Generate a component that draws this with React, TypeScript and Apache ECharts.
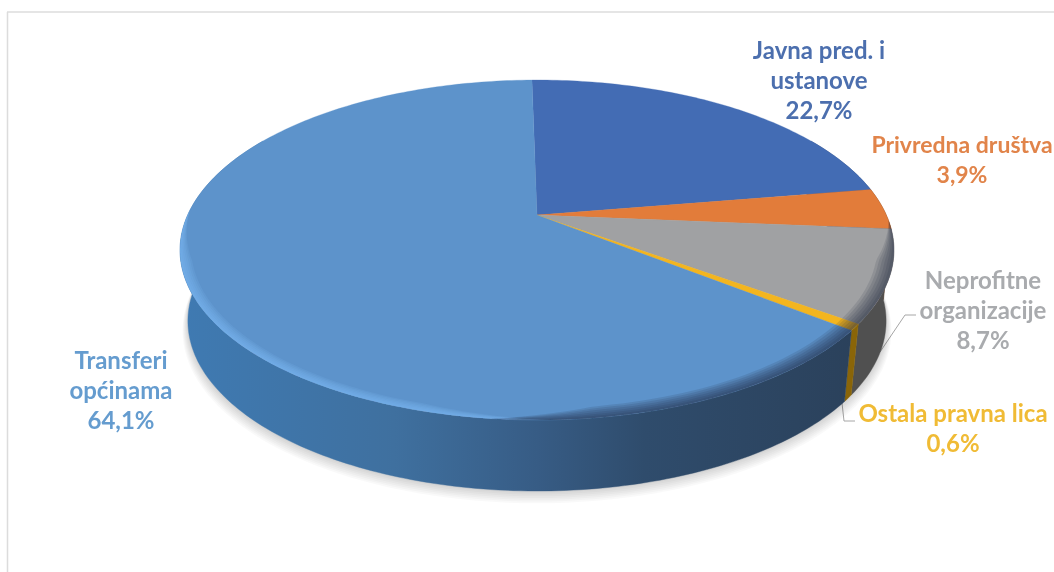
import React, { useEffect, useRef } from "react";
import * as echarts from "echarts";

const categories = ["Javna pred. i\nustanove", "Privredna društva", "Neprofitne\norganizacije", "Ostala pravna lica", "Transferi\nopćinama"];
const shares = [22.7, 3.9, 8.7, 0.6, 64.1];
const valueLabels = ["22,7%", "3,9%", "8,7%", "0,6%", "64,1%"];
const topColors = ["#436cb4", "#e27c3a", "#a0a1a3", "#f3b51f", "#5d93cb"];
const textColors = ["#4c6fae", "#e1844a", "#a9abae", "#f0bb35", "#659ccf"];
const labelCenters = [[819, 79], [962, 159], [983, 309], [953, 427], [121, 389]];
const labelFontSizes = [24, 23, 24, 24, 24];

const START_DEG = -1;
const APEX = { x: 537, y: 215 };
const A = 349.3, B = 162.8, K = 0.206;
const BASE = { sx: 0.978, sy: 1, cy: 286 };

const rad = (d: number) => (d * Math.PI) / 180;
function rim(tDeg: number, r = 1) {
  const u = r * Math.sin(rad(tDeg));
  const v = -r * Math.cos(rad(tDeg));
  const w = 1 - K * v;
  return [APEX.x + (A * u) / w, APEX.y + (B * v) / w];
}
function base(tDeg: number, grow = 1, dy = 0) {
  const [x, y] = rim(tDeg);
  return [APEX.x + (x - APEX.x) * BASE.sx * grow, BASE.cy + dy + (y - APEX.y) * BASE.sy * grow];
}
function range(a: number, b: number, step = 1) {
  const out: number[] = [];
  const n = Math.max(1, Math.ceil(Math.abs(b - a) / step));
  for (let i = 0; i <= n; i++) out.push(a + ((b - a) * i) / n);
  return out;
}
function sliceAngles(i: number) {
  let c = 0;
  for (let j = 0; j < i; j++) c += shares[j];
  return [START_DEG + (c / 100) * 360, START_DEG + ((c + shares[i]) / 100) * 360];
}
const hGrad = (stops: [number, string][]) =>
  new echarts.graphic.LinearGradient(180, 0, 895, 0, stops.map(([offset, color]) => ({ offset, color })), true);

const wallFill = (i: number): any => {
  if (i === 4)
    return hGrad([
      [0, "#3f7ab2"],
      [0.3, "#3f709f"],
      [0.5, "#375c85"],
      [0.65, "#2f4c6c"],
      [1, "#2a3f58"],
    ]);
  return ["#2f4a7c", "#7a4420", "#505050", "#8a6508"][i];
};

const renderWall = (params: any) => {
  const i = params.dataIndex;
  const [a0, a1] = sliceAngles(i);
  const lo = Math.max(a0, 60);
  const hi = Math.min(a1, 300);
  if (hi <= lo) return { type: "group", children: [] };
  const ts = range(lo, hi);
  const points = [...ts.map((t) => rim(t)), ...[...ts].reverse().map((t) => base(t))];
  return { type: "polygon", silent: true, shape: { points }, style: { fill: wallFill(i), stroke: wallFill(i), lineWidth: 0.4 } };
};

const renderTop = (params: any) => {
  const i = params.dataIndex;
  const [a0, a1] = sliceAngles(i);
  const points = [[APEX.x, APEX.y], ...range(a0, a1).map((t) => rim(t))];
  return { type: "polygon", silent: true, shape: { points }, style: { fill: topColors[i], stroke: topColors[i], lineWidth: 0.3 } };
};

// soft drop shadow under the disc: stacked translucent copies of the base outline
const renderShadow = () => ({
  type: "group",
  children: [7, 6, 5, 4, 3, 2, 1].map((n) => ({
    type: "polygon",
    silent: true,
    shape: { points: range(0, 360, 2).map((t) => base(t, 1 + n * 0.0022, n * 1.3)) },
    style: { fill: "rgba(0,0,0,0.022)" },
  })),
});

const bump = (t: number, a: number, b: number, edge: number) =>
  Math.min(1, Math.max(0, Math.min((t - a) / edge, (b - t) / edge)));

// soft bevel of the top face: nested tapered bands along the rim
const renderBevel = () => {
  const children: any[] = [];
  const layers = [1, 0.84, 0.67, 0.5, 0.33, 0.17];
  layers.forEach((f) => {
    const dark = range(92, 186, 1.5);
    children.push({
      type: "polygon",
      silent: true,
      shape: {
        points: [...dark.map((t) => rim(t)), ...[...dark].reverse().map((t) => rim(t, 1 - 0.045 * f * bump(t, 92, 186, 14)))],
      },
      style: { fill: "rgba(28,40,60,0.13)" },
    });
    const light = range(178, 272, 1.5);
    children.push({
      type: "polygon",
      silent: true,
      shape: {
        points: [...light.map((t) => rim(t)), ...[...light].reverse().map((t) => rim(t, 1 - 0.03 * f * bump(t, 178, 272, 18)))],
      },
      style: { fill: "rgba(128,190,245,0.15)" },
    });
  });
  return { type: "group", children };
};

export default function App() {
  const ref = useRef<HTMLDivElement>(null);
  useEffect(() => {
    document.body.style.margin = "0";
    const chart = echarts.init(ref.current!, undefined, { renderer: "svg" });
    const frameColor = "#dcdcdc";
    const leader = "#a6a6a6";
    chart.setOption({
      animation: false,
      backgroundColor: "#ffffff",
      series: [
        { type: "custom", coordinateSystem: "none", data: [0], renderItem: renderShadow, z: 1, silent: true },
        { type: "custom", coordinateSystem: "none", data: shares, renderItem: renderWall, z: 2, silent: true },
        { type: "custom", coordinateSystem: "none", data: shares, renderItem: renderTop, z: 3, silent: true },
        { type: "custom", coordinateSystem: "none", data: [0], renderItem: renderBevel, z: 4, silent: true },
      ],
      graphic: [
        { type: "line", shape: { x1: 7.5, y1: 12, x2: 7.5, y2: 572 }, style: { stroke: frameColor, lineWidth: 1.5 } },
        { type: "line", shape: { x1: 7, y1: 12, x2: 1054, y2: 12 }, style: { stroke: frameColor, lineWidth: 1.5 } },
        { type: "polyline", shape: { points: [[880, 352], [905, 315], [916, 315]] }, style: { stroke: leader, lineWidth: 1, fill: "none" } },
        { type: "polyline", shape: { points: [[842, 403], [844, 421], [855, 421]] }, style: { stroke: leader, lineWidth: 1, fill: "none" } },
        ...categories.map((c, i) => ({
          type: "text",
          x: labelCenters[i][0],
          y: labelCenters[i][1],
          style: {
            text: `${c}\n${valueLabels[i]}`,
            fill: textColors[i],
            font: `bold ${labelFontSizes[i]}px Lato, "Open Sans", sans-serif`,
            lineHeight: 30,
            align: "center",
            verticalAlign: "middle",
          },
        })),
      ],
    });
    return () => chart.dispose();
  }, []);
  return <div ref={ref} style={{ position: "absolute", left: 0, top: 0, width: 1054, height: 572, filter: "blur(0.5px)" }} />;
}
